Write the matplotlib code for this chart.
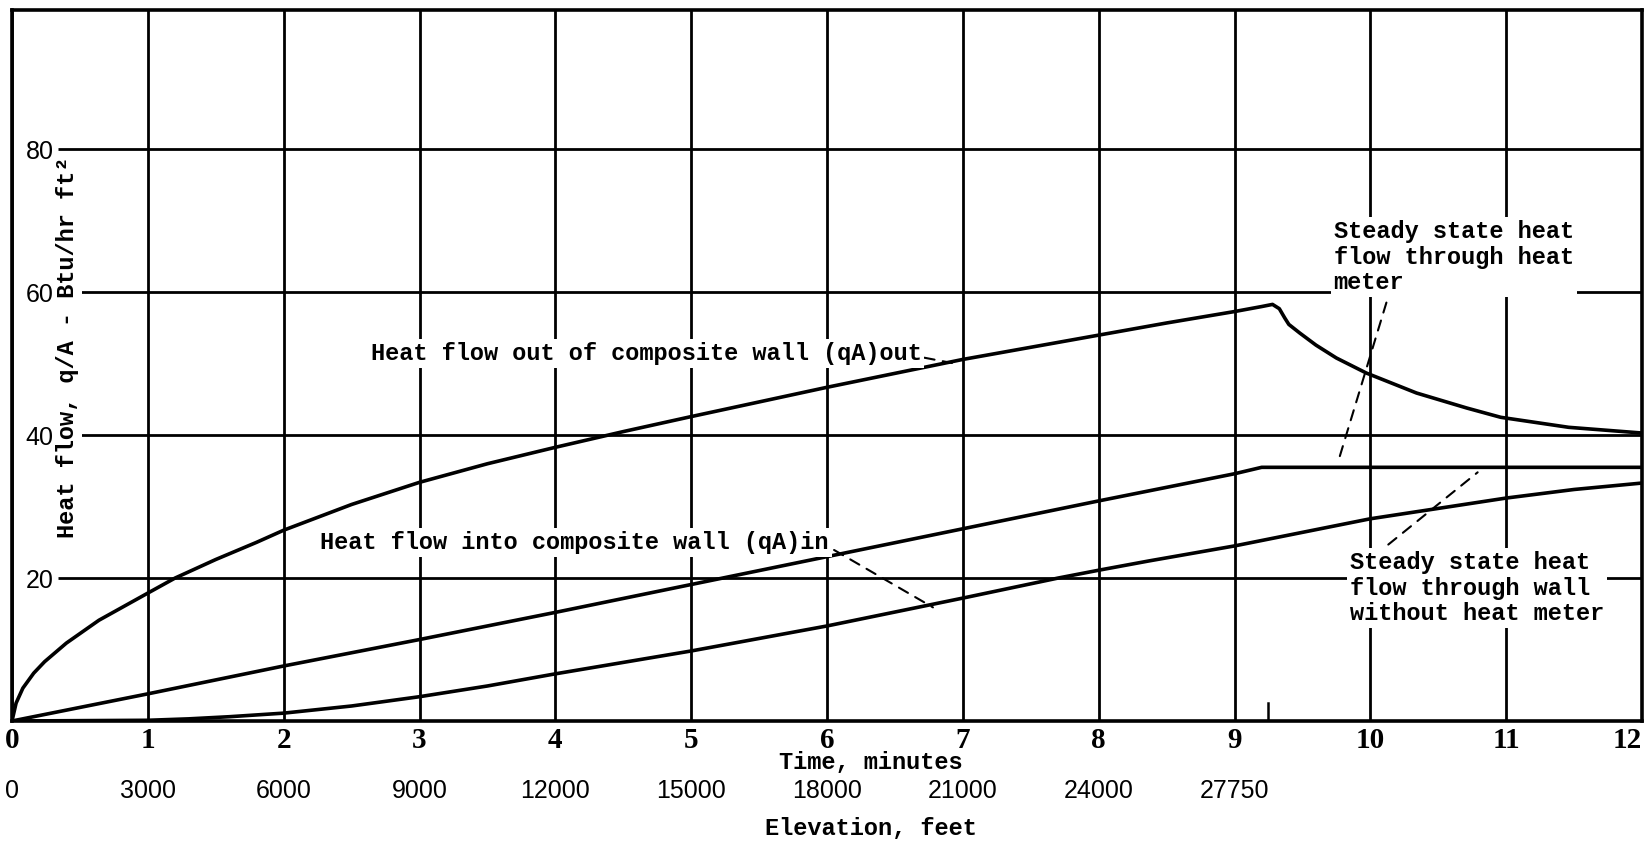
import matplotlib
matplotlib.use("Agg")
import matplotlib.pyplot as plt

# heat flow out of composite wall (qA)out
t_out = [0, 0.03, 0.08, 0.16, 0.24, 0.4, 0.64, 1.0, 1.2, 1.5, 1.8, 2.0, 2.5, 3.0, 3.5, 4.0,
         4.5, 5.0, 6.0, 7.0, 8.0, 8.5, 9.0, 9.2, 9.28, 9.33, 9.37, 9.4, 9.48, 9.6, 9.75,
         9.97, 10.34, 10.71, 10.96, 11.46, 12.0]
q_out = [0, 2.5, 4.6, 6.7, 8.3, 10.9, 14.1, 17.9, 20.0, 22.6, 25.0, 26.7, 30.3, 33.4, 36.0, 38.3,
         40.5, 42.6, 46.7, 50.6, 54.0, 55.7, 57.3, 58.0, 58.3, 57.7, 56.4, 55.5, 54.3, 52.6, 50.8,
         48.7, 45.9, 43.8, 42.5, 41.1, 40.3]

# heat flow into composite wall (qA)in
t_in = [0, 1, 2, 3, 4, 5, 6, 7, 8, 9, 9.2, 10, 11, 12]
q_in = [0, 3.8, 7.7, 11.4, 15.2, 19.1, 23.0, 26.9, 30.8, 34.6, 35.5, 35.5, 35.5, 35.5]

# wall without heat meter
t_wall = [0, 1.0, 1.3, 1.6, 2.0, 2.5, 3.0, 3.5, 4.0, 5.0, 6.0, 7.0, 7.7, 8.0, 8.37, 9.0,
          10.0, 11.0, 11.5, 12.0]
q_wall = [0, 0.1, 0.3, 0.6, 1.1, 2.1, 3.4, 4.9, 6.6, 9.8, 13.3, 17.2, 20.0, 21.1, 22.4, 24.5,
          28.3, 31.2, 32.4, 33.3]

minutes = list(range(13))
heat_ticks = [20, 40, 60, 80]
elev_minutes = [0, 1, 2, 3, 4, 5, 6, 7, 8, 9]
elevation = ["0", "3000", "6000", "9000", "12000", "15000", "18000", "21000", "24000", "27750"]
climb_end = 9.25

mono = dict(family="Liberation Mono", weight="bold", fontsize=17)
white = dict(facecolor="white", edgecolor="none", pad=2)

fig = plt.figure(figsize=(16.5, 8.43), dpi=100)
ax = fig.add_axes([12 / 1650, 122 / 843, 1630 / 1650, 711 / 843])

ax.plot(t_out, q_out, color="black", lw=2.6, zorder=2)
ax.plot(t_in, q_in, color="black", lw=2.6, zorder=2)
ax.plot(t_wall, q_wall, color="black", lw=2.6, zorder=2)
ax.axvline(climb_end, ymax=0.025, color="black", lw=1.8)

ax.set_xlim(0, 12)
ax.set_ylim(0, 99.5)
ax.set_xticks(minutes)
ax.set_yticks(heat_ticks)
ax.grid(axis="x", color="black", lw=2.0)
# horizontal rules start right of the scale numbers
ax.hlines(heat_ticks, 0.34, 12, color="black", lw=2.0, zorder=1)
for s in ax.spines.values():
    s.set_linewidth(2.6)

ax.tick_params(axis="x", length=0, pad=4)
ax.tick_params(axis="y", length=0, pad=-30)
for lbl in ax.get_xticklabels():
    lbl.set_fontfamily("Liberation Serif")
    lbl.set_fontweight("bold")
    lbl.set_fontsize(21)
ax.get_xticklabels()[-1].set_ha("right")
for lbl in ax.get_yticklabels():
    lbl.set_fontfamily("Liberation Sans")
    lbl.set_fontsize(18)

ax.text(0.41, 52.3, "Heat flow, q/A - Btu/hr ft²", rotation=90, ha="center", va="center",
        bbox=white, zorder=3, **mono)

xt = ax.get_xaxis_transform()
ax.text(6.32, -0.058, "Time, minutes", transform=xt, ha="center", va="center", **mono)
for m, e in zip(elev_minutes, elevation):
    ax.text(m, -0.099, e, transform=xt, ha="center", va="center",
            family="Liberation Sans", fontsize=18)
ax.text(6.32, -0.151, "Elevation, feet", transform=xt, ha="center", va="center", **mono)

dash = dict(arrowstyle="-", color="black", lw=1.5, linestyle=(0, (5, 4)), shrinkB=0)

ax.annotate("Heat flow out of composite wall (qA)out", xy=(6.92, 50.1), xytext=(2.64, 51.4),
            ha="left", va="center", bbox=white, zorder=3,
            arrowprops=dict(dash, relpos=(1, 0.35), shrinkA=0), **mono)
ax.annotate("Heat flow into composite wall (qA)in", xy=(6.78, 15.9), xytext=(2.27, 25.0),
            ha="left", va="center", bbox=white, zorder=3,
            arrowprops=dict(dash, relpos=(1, 0.3), shrinkA=2), **mono)
ax.annotate("Steady state heat\nflow through heat\nmeter", xy=(9.76, 36.1), xytext=(9.73, 64.9),
            ha="left", va="center", linespacing=1.15, bbox=white, zorder=3,
            arrowprops=dict(dash, relpos=(0.23, 0), shrinkA=4), **mono)
ax.annotate("Steady state heat\nflow through wall\nwithout heat meter", xy=(10.79, 34.8),
            xytext=(9.85, 18.6), ha="left", va="center", linespacing=1.15, bbox=white, zorder=3,
            arrowprops=dict(dash, relpos=(0.12, 1), shrinkA=4), **mono)

fig.savefig("out.png", dpi=100)
